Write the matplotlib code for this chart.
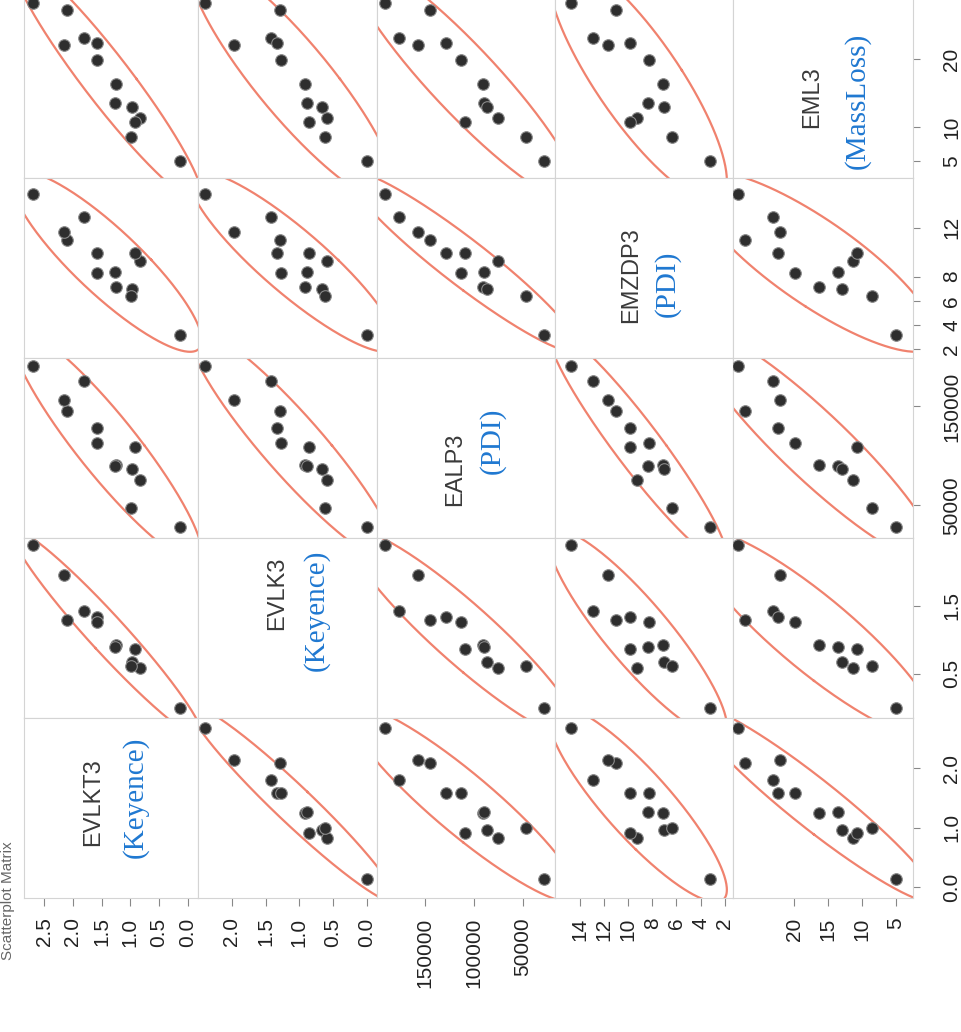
import numpy as np
import matplotlib
matplotlib.use('Agg')
import matplotlib.pyplot as plt
from matplotlib.ticker import FormatStrFormatter

# names on the diagonal, with the hand-written method note under each
names = ['EVLKT3', 'EVLK3', 'EALP3', 'EMZDP3', 'EML3']
notes = ['(Keyence)', '(Keyence)', '(PDI)', '(PDI)', '(MassLoss)']

# 13 samples, values
EVLKT3 = [2.69, 2.10, 1.80, 1.58, 2.15, 1.58, 1.25, 1.27, 0.97, 0.83, 0.92, 0.99, 0.14]
EVLK3 = [2.40, 1.29, 1.42, 1.33, 1.96, 1.27, 0.92, 0.89, 0.67, 0.59, 0.86, 0.62, 0.00]
EALP3 = [191000, 145000, 176000, 128500, 157000, 113000, 91000, 90000, 87000, 75500, 109000, 47000, 28500]
EMZDP3 = [14.8, 11.0, 12.9, 9.9, 11.7, 8.3, 7.1, 8.4, 7.0, 9.3, 9.9, 6.4, 3.2]
EML3 = [28.3, 27.2, 23.1, 22.4, 22.1, 19.9, 16.4, 13.6, 13.0, 11.4, 10.7, 8.5, 5.0]

data = [np.array(v, dtype=float) for v in (EVLKT3, EVLK3, EALP3, EMZDP3, EML3)]

# axis ranges and tick labels per variable
lims = [(-0.18, 2.85), (-0.15, 2.5), (17000, 199000), (1.3, 16.1), (2.5, 29.0)]
side_ticks = [[0.0, 0.5, 1.0, 1.5, 2.0, 2.5], [0.0, 0.5, 1.0, 1.5, 2.0],
              [50000, 100000, 150000], [2, 4, 6, 8, 10, 12, 14], [5, 10, 15, 20]]
edge_ticks = [[0.0, 1.0, 2.0], [0.5, 1.5], [50000, 150000], [2, 4, 6, 8, 12], [5, 10, 20]]
fmts = ['%.1f', '%.1f', '%d', '%d', '%d']

W, H = 961, 1032
xb = [24, 198, 377, 555, 733, 913]   # cell borders in pixels
yb = [-2, 178, 358, 538, 718, 898]

# where the two diagonal texts sit inside each cell (axes fraction)
name_pos = [(0.40, 0.53), (0.44, 0.69), (0.44, 0.38), (0.43, 0.46), (0.44, 0.45)]
note_pos = [(0.64, 0.56), (0.66, 0.60), (0.65, 0.54), (0.63, 0.41), (0.69, 0.43)]

tick_col = '#222222'
ell_col = '#f0826e'


def ellipse(x, y, k=np.sqrt(5.991)):
    # 95% bivariate normal density ellipse
    m = np.array([x.mean(), y.mean()])
    w, v = np.linalg.eigh(np.cov(x, y))
    t = np.linspace(0, 2 * np.pi, 300)
    circ = np.vstack([np.cos(t), np.sin(t)])
    pts = v @ (np.sqrt(w)[:, None] * circ) * k
    return m[0] + pts[0], m[1] + pts[1]


fig = plt.figure(figsize=(W / 100, H / 100), dpi=100)

for i in range(5):          # picture column -> variable on the horizontal axis
    for j in range(5):      # picture row -> variable on the vertical axis
        vx, vy = i, 4 - j
        ax = fig.add_axes([xb[i] / W, 1 - yb[j + 1] / H,
                           (xb[i + 1] - xb[i]) / W, (yb[j + 1] - yb[j]) / H])
        ax.set_xlim(lims[vx][1], lims[vx][0])
        ax.set_ylim(lims[vy])
        for s in ax.spines.values():
            s.set_color('#d4d4d4')
            s.set_linewidth(0.8)
        ax.tick_params(length=0, labelbottom=False, labelleft=False)
        ax.set_xticks([])
        ax.set_yticks([])

        if vx == vy:
            ax.text(*name_pos[vx], names[vx], transform=ax.transAxes, rotation=90,
                    ha='center', va='center', fontsize=17, color='#3a3a3a',
                    family='Liberation Sans')
            ax.text(*note_pos[vx], notes[vx], transform=ax.transAxes, rotation=90,
                    ha='center', va='center', fontsize=21, color='#1f78d1',
                    family='Liberation Serif')
        else:
            ex, ey = ellipse(data[vx], data[vy])
            ax.plot(ex, ey, color=ell_col, lw=1.6)
            ax.scatter(data[vx], data[vy], s=70, color='#2e2e2e',
                       edgecolors='#8a8a8a', linewidths=0.8, zorder=3, clip_on=True)

        if j == 4:
            ax.set_xticks(side_ticks[vx])
            ax.xaxis.set_major_formatter(FormatStrFormatter(fmts[vx]))
            ax.tick_params(axis='x', length=6, color='#888888', labelbottom=True,
                           labelrotation=90, labelsize=15, labelcolor=tick_col, pad=8)
        if i == 4:
            ax.yaxis.tick_right()
            ax.set_yticks(edge_ticks[vy])
            ax.yaxis.set_major_formatter(FormatStrFormatter(fmts[vy]))
            ax.tick_params(axis='y', length=5, color='#888888', labelright=True,
                           labelsize=15, labelcolor=tick_col, pad=16)
            for lab in ax.get_yticklabels():
                lab.set_rotation(90)
                lab.set_va('center')
                lab.set_ha('left')

        for lab in ax.get_xticklabels() + ax.get_yticklabels():
            lab.set_family('Liberation Sans')

# report title at the cut edge of the scan
fig.text(0.001, 0.07, 'Scatterplot Matrix', rotation=90, ha='left', va='bottom',
         fontsize=11, color='#666666', family='Liberation Sans')

fig.savefig('out.png', dpi=100, facecolor='white')
